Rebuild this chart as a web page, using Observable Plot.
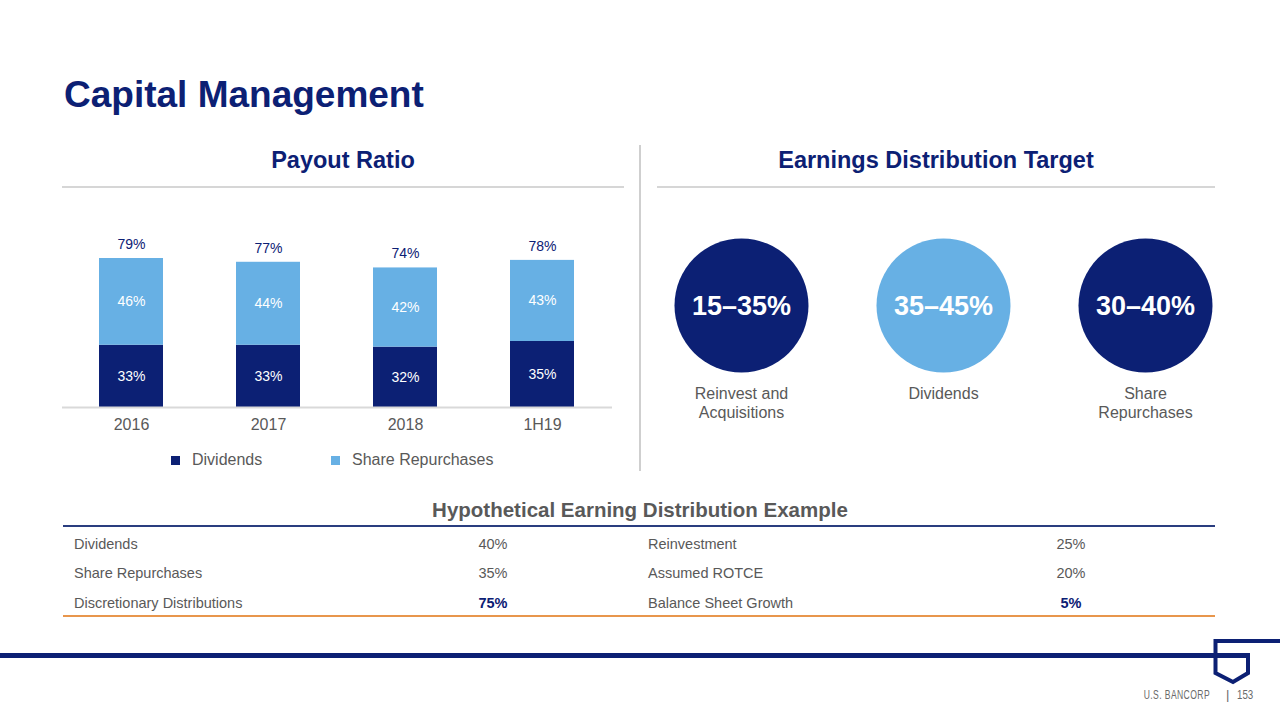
<!DOCTYPE html>
<html>
<head>
<meta charset="utf-8">
<script src="https://cdn.jsdelivr.net/npm/d3@7"></script>
<script src="https://cdn.jsdelivr.net/npm/@observablehq/plot@0.6"></script>
<style>
  html, body { margin: 0; padding: 0; background: #fff; }
  body { width: 1280px; height: 720px; position: relative; overflow: hidden; font-family: "Liberation Sans", Arial, sans-serif; }
  .title { font-size: 37px; font-weight: bold; color: #0c2074; white-space: nowrap; }
  .sect { font-size: 23.5px; font-weight: bold; color: #0c2074; text-align: center; white-space: nowrap; }
  .hr { height: 2px; background: #d6d6d6; }
  .legend { font-size: 16px; color: #595959; display: flex; align-items: center; white-space: nowrap; }
  .sw { width: 9px; height: 9px; margin-right: 12px; }
  .cell { font-size: 14.5px; color: #595959; white-space: nowrap; }
  .footer { font-size: 13px; color: #6a6a6a; white-space: nowrap; }
</style>
</head>
<body>
<script>
// ---- Data ----
const categories = ["2016", "2017", "2018", "1H19"];
const dividends = [33, 33, 32, 35];
const repurchases = [46, 44, 42, 43];
const totals = [79, 77, 74, 78];
const seriesNames = ["Dividends", "Share Repurchases"];

const targetNames = ["Reinvest and\nAcquisitions", "Dividends", "Share\nRepurchases"];
const targetRanges = ["15–35%", "35–45%", "30–40%"];

const tableLeftLabels = ["Dividends", "Share Repurchases", "Discretionary Distributions"];
const tableLeftValues = ["40%", "35%", "75%"];
const tableRightLabels = ["Reinvestment", "Assumed ROTCE", "Balance Sheet Growth"];
const tableRightValues = ["25%", "20%", "5%"];

const NAVY = "#0c2074";
const LIGHT = "#67b0e4";
const GRAY = "#595959";
const FONT = "'Liberation Sans', Arial, sans-serif";

function place(el, left, top, extra) {
  el.style.position = "absolute";
  el.style.left = left + "px";
  el.style.top = top + "px";
  if (extra) Object.assign(el.style, extra);
  document.body.appendChild(el);
  return el;
}
function div(cls, text) { const d = document.createElement("div"); d.className = cls; if (text != null) d.textContent = text; return d; }

// ---- Static headings ----
place(div("title", "Capital Management"), 64, 74);
place(div("sect", "Payout Ratio"), 62, 147, {width: "562px"});
place(div("hr"), 62, 186, {width: "562px"});
place(div("sect", "Earnings Distribution Target"), 657, 147, {width: "558px"});
place(div("hr"), 657, 186, {width: "558px"});
place(div(""), 639, 145, {width: "1.5px", height: "326px", background: "#cfcfcf"});

// ---- Bar chart ----
const rows = [];
categories.forEach((c, i) => {
  rows.push({cat: c, series: seriesNames[0], y1: 0, y2: dividends[i], v: dividends[i]});
  rows.push({cat: c, series: seriesNames[1], y1: dividends[i], y2: dividends[i] + repurchases[i], v: repurchases[i]});
});
const totalRows = categories.map((c, i) => ({cat: c, total: totals[i]}));

const bar = Plot.plot({
  width: 640,
  height: 240,
  marginLeft: 62,
  marginRight: 28,
  marginTop: 18.4,
  marginBottom: 33,
  style: {fontFamily: FONT, fontSize: "16px", color: GRAY, background: "transparent"},
  x: {domain: categories, paddingInner: 0.53, paddingOuter: 0.265, label: null, tickSize: 0, tickPadding: 11},
  y: {domain: [0, 100], axis: null},
  color: {domain: seriesNames, range: [NAVY, LIGHT]},
  marks: [
    Plot.barY(rows, {x: "cat", y1: "y1", y2: "y2", fill: "series"}),
    Plot.ruleY([0], {stroke: "#d9d9d9", strokeWidth: 2}),
    Plot.text(rows, {x: "cat", y: d => (d.y1 + d.y2) / 2, text: d => d.v + "%", fill: "white", fontSize: 14}),
    Plot.text(totalRows, {x: "cat", y: "total", text: d => d.total + "%", dy: -14, fill: NAVY, fontSize: 14})
  ]
});
place(bar, 0, 200);

// Legend
const lg1 = div("legend"); lg1.innerHTML = `<span class="sw" style="background:${NAVY}"></span>${seriesNames[0]}`;
place(lg1, 171, 451);
const lg2 = div("legend"); lg2.innerHTML = `<span class="sw" style="background:${LIGHT}"></span>${seriesNames[1]}`;
place(lg2, 331, 451);

// ---- Circles ----
const targets = targetNames.map((n, i) => ({name: n, range: targetRanges[i]}));
const circ = Plot.plot({
  width: 600,
  height: 230,
  marginLeft: 101,
  marginRight: 95,
  marginTop: 0,
  marginBottom: 60,
  style: {fontFamily: FONT, background: "transparent"},
  x: {type: "point", domain: targetNames, padding: 0, axis: null},
  marks: [
    Plot.dot(targets, {x: "name", r: 67, fill: d => d.name === "Dividends" ? LIGHT : NAVY, stroke: null}),
    Plot.text(targets, {x: "name", text: "range", fill: "white", fontSize: 27, fontWeight: "bold", dy: 1}),
    Plot.text(targets, {x: "name", text: "name", fill: GRAY, fontSize: 16, lineAnchor: "top", lineHeight: 1.2, dy: 80})
  ]
});
place(circ, 640, 220);

// ---- Table ----
place(div("sect", "Hypothetical Earning Distribution Example"), 0, 498, {width: "1280px", color: GRAY, fontSize: "20.5px"});
place(div(""), 63, 525, {width: "1152px", height: "2px", background: "#2a3d7f"});
place(div(""), 63, 615, {width: "1152px", height: "2px", background: "#e8964c"});
const rowY = [536, 565, 595];
tableLeftLabels.forEach((t, i) => {
  place(div("cell", t), 74, rowY[i]);
  const last = i === tableLeftLabels.length - 1;
  place(div("cell", tableLeftValues[i]), 453, rowY[i], {width: "80px", textAlign: "center", fontWeight: last ? "bold" : "normal", color: last ? NAVY : GRAY});
  place(div("cell", tableRightLabels[i]), 648, rowY[i]);
  place(div("cell", tableRightValues[i]), 1031, rowY[i], {width: "80px", textAlign: "center", fontWeight: last ? "bold" : "normal", color: last ? NAVY : GRAY});
});

// ---- Footer / logo ----
const ns = "http://www.w3.org/2000/svg";
const logo = document.createElementNS(ns, "svg");
logo.setAttribute("width", "1280"); logo.setAttribute("height", "80");
logo.innerHTML = `
  <rect x="0" y="23" width="1250" height="5" fill="${NAVY}"/>
  <path d="M1280 11 H1215.5 V43 L1233 52 L1248 43 V23" fill="none" stroke="${NAVY}" stroke-width="4"/>
`;
place(logo, 0, 630);
place(div("footer", "U.S. BANCORP"), 1010, 687, {width: "200px", textAlign: "right", letterSpacing: "0.6px", transform: "scaleX(0.66)", transformOrigin: "right center"});
place(div("footer", "|"), 1226, 687);
place(div("footer", "153"), 1237, 687, {transform: "scaleX(0.75)", transformOrigin: "left center"});
</script>
</body>
</html>
